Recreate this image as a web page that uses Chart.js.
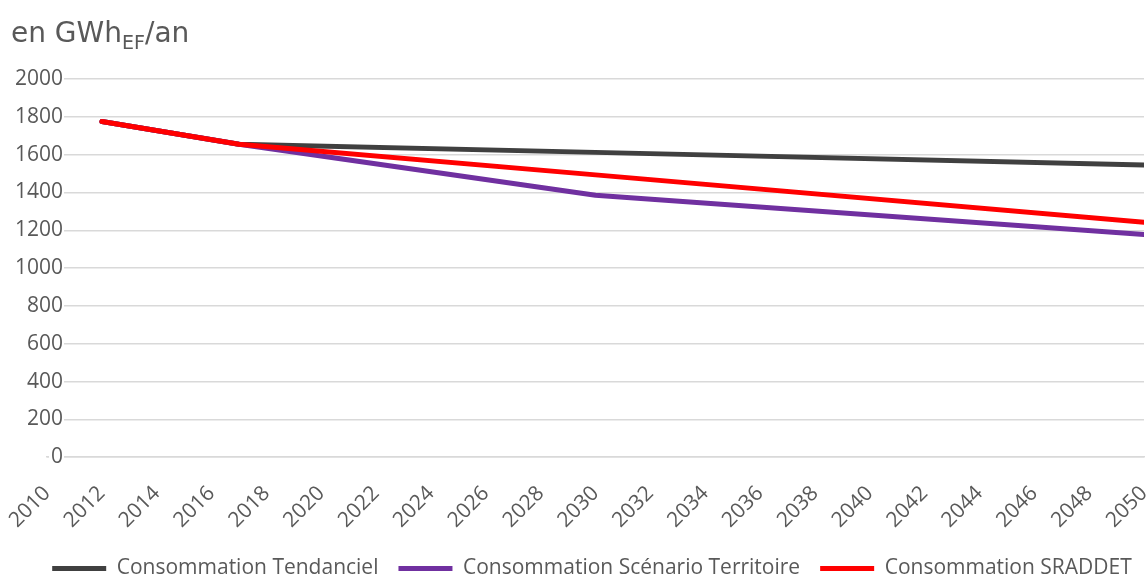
<!DOCTYPE html>
<html>
<head>
<meta charset="utf-8">
<script src="https://cdn.jsdelivr.net/npm/chart.js@4"></script>
<style>
  html, body { margin: 0; padding: 0; background: #fff; }
  #wrap { position: relative; width: 1148px; height: 574px; }
  #title {
    position: absolute; left: 11px; top: 16px;
    font-family: "DejaVu Sans", sans-serif; font-size: 28px; color: #595959;
  }
  #title sub { font-size: 19px; vertical-align: -7px; line-height: 0; }
</style>
</head>
<body>
<div id="wrap">
  <div id="title">en GWh<sub>EF</sub>/an</div>
  <canvas id="chart" width="1148" height="574"></canvas>
</div>
<script>
// values
const years = [2012, 2017, 2030, 2050];
const tendanciel = [1775, 1655, 1612, 1545];
const territoire = [1775, 1655, 1385, 1178];
const sraddet = [1775, 1655, 1493, 1243];

const seriesNames = ["Consommation Tendanciel", "Consommation Scénario Territoire", "Consommation SRADDET"];
const seriesColors = ["#404040", "#7030A0", "#FF0000"];

const TEXT = "#595959";
const FONT = "'Open Sans', sans-serif";

function toPoints(values) {
  return years.map((yr, i) => ({ x: yr, y: values[i] }));
}

const allSeries = [tendanciel, territoire, sraddet];
const datasets = allSeries.map((vals, i) => ({
  label: seriesNames[i],
  data: toPoints(vals),
  borderColor: seriesColors[i],
  backgroundColor: seriesColors[i],
  borderWidth: 5,
  borderCapStyle: "round",
  borderJoinStyle: "round",
  pointRadius: 0,
  tension: 0,
  // red drawn on top
  order: 2 - i
}));

// nudge the legend a bit right, like the original
const legendShift = {
  id: "legendShift",
  afterLayout(chart) {
    const lg = chart.legend;
    lg.left += 20; lg.right += 20;
    lg.top -= 19; lg.bottom -= 19;
  }
};

const ctx = document.getElementById("chart");

const myChart = new Chart(ctx, {
  type: "line",
  data: { datasets: datasets },
  plugins: [legendShift],
  options: {
    responsive: false,
    animation: false,
    layout: { padding: { top: 79, right: 4, left: 0, bottom: -34 } },
    scales: {
      x: {
        type: "linear",
        min: 2010,
        max: 2050,
        afterFit: (scale) => { scale.paddingLeft = 0; scale.paddingRight = 0; },
        grid: { display: false, drawTicks: false },
        border: { display: true, color: "#d9d9d9", width: 1.5 },
        ticks: {
          stepSize: 2,
          autoSkip: false,
          maxRotation: 45,
          minRotation: 45,
          padding: 24,
          color: TEXT,
          font: { family: FONT, size: 21 },
          callback: (v) => String(v)
        }
      },
      y: {
        min: 0,
        max: 2000,
        afterFit: (scale) => { scale.width = 47; },
        grid: { color: "#d9d9d9", lineWidth: 1.5, drawTicks: false },
        border: { display: false },
        ticks: {
          stepSize: 200,
          mirror: true,
          crossAlign: "far",
          padding: -32,
          color: TEXT,
          font: { family: FONT, size: 21 },
          showLabelBackdrop: true,
          backdropColor: "#ffffff",
          backdropPadding: { left: 2, right: 1, top: 0, bottom: 0 },
          callback: (v) => String(v)
        }
      }
    },
    plugins: {
      title: { display: false },
      tooltip: { enabled: false },
      legend: {
        position: "bottom",
        labels: {
          usePointStyle: true,
          pointStyle: "line",
          pointStyleWidth: 54,
          boxHeight: 5,
          padding: 20,
          color: TEXT,
          font: { family: FONT, size: 21 },
          sort: (a, b) => a.datasetIndex - b.datasetIndex
        }
      }
    }
  }
});
</script>
</body>
</html>
